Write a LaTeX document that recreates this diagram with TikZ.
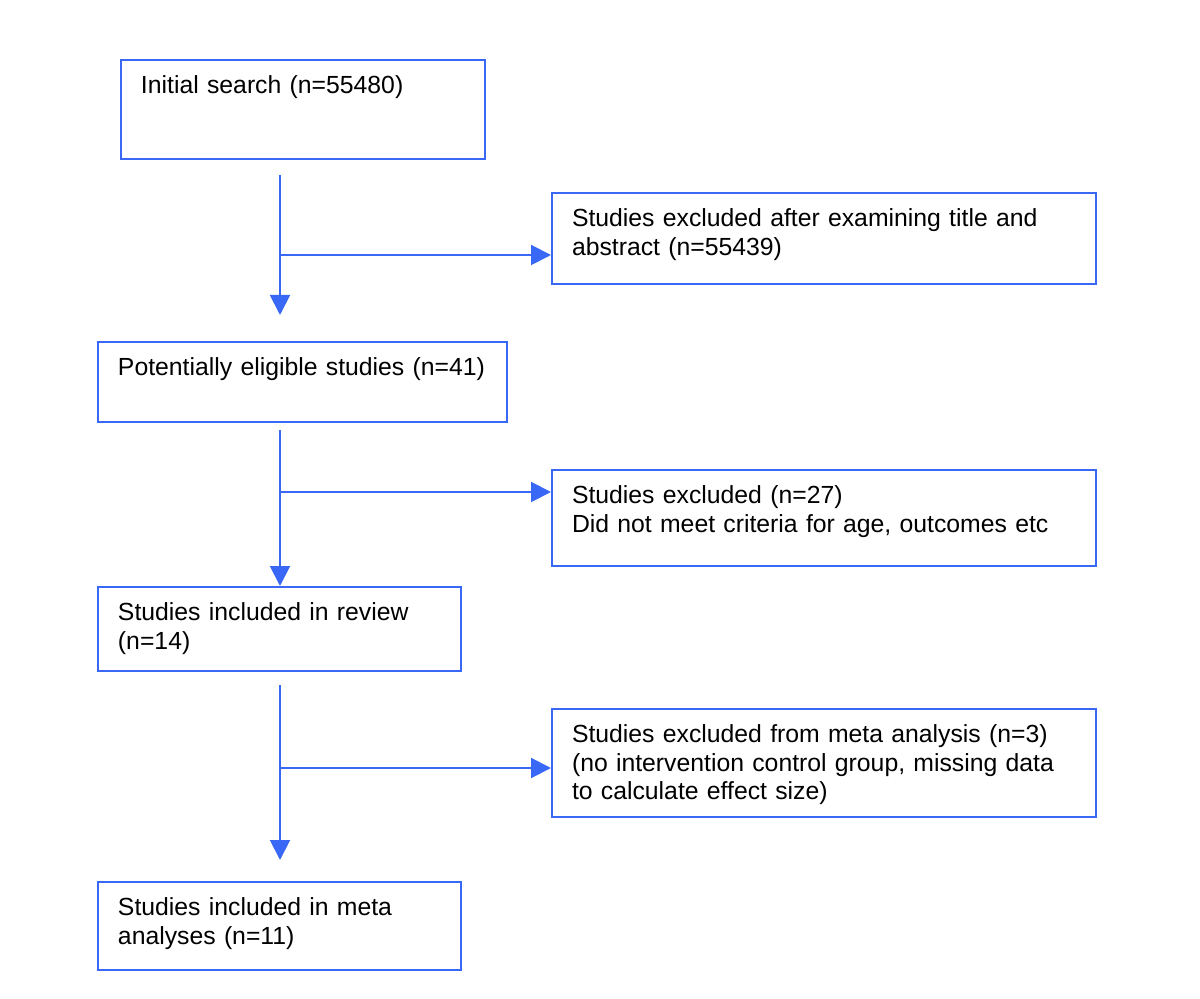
\documentclass[tikz,border=0pt]{standalone}
\usepackage{fontspec}
\setmainfont{Liberation Sans}
\usetikzlibrary{arrows.meta,positioning,calc}
\definecolor{flowblue}{RGB}{56,104,245}

\begin{document}
\begin{tikzpicture}[x=0.02cm, y=-0.02cm,
  box/.style={draw=flowblue, line width=0.04cm, anchor=north west, align=left,
    inner xsep=0.4cm, inner ysep=0.2cm, text height=0.48cm,
    font=\fontsize{14.1}{16.1}\selectfont},
  flow/.style={draw=flowblue, line width=0.04cm, -{Triangle[length=0.4cm, width=0.4cm]}}]
  \useasboundingbox (0,0) rectangle (1200,999);

  \node (search) [box, text width=6.48cm, text depth=1.1cm] at (120,59) {Initial search (n=55480)};
  \node (excl1) [box, text width=10.08cm, text depth=0.94cm] at (551,192) {Studies excluded after examining title and\\abstract (n=55439)};
  \node (eligible) [box, text width=7.38cm, text depth=0.72cm] at (97,341) {Potentially eligible studies (n=41)};
  \node (excl2) [box, text width=10.08cm, text depth=1.04cm] at (551,469) {Studies excluded (n=27)\\Did not meet criteria for age, outcomes etc};
  \node (review) [box, text width=6.46cm, text depth=0.8cm] at (97,586) {Studies included in review\\(n=14)};
  \node (excl3) [box, text width=10.08cm, text depth=1.28cm] at (551,708) {Studies excluded from meta analysis (n=3)\\(no intervention control group, missing data\\to calculate effect size)};
  \node (meta) [box, text width=6.46cm, text depth=0.88cm] at (97,881) {Studies included in meta\\analyses (n=11)};

  \coordinate (s1) at (280,175);
  \coordinate (j1) at (280,255);
  \coordinate (e1) at (280,315);
  \coordinate (s2) at (280,430);
  \coordinate (j2) at (280,492);
  \coordinate (s3) at (280,685);
  \coordinate (j3) at (280,768);
  \coordinate (e3) at (280,860);

  \draw [flow] (s1) -- (e1);
  \draw [flow] (j1) -- (j1 -| excl1.west);
  \draw [flow] (s2) -- (s2 |- review.north);
  \draw [flow] (j2) -- (j2 -| excl2.west);
  \draw [flow] (s3) -- (e3);
  \draw [flow] (j3) -- (j3 -| excl3.west);
\end{tikzpicture}
\end{document}
